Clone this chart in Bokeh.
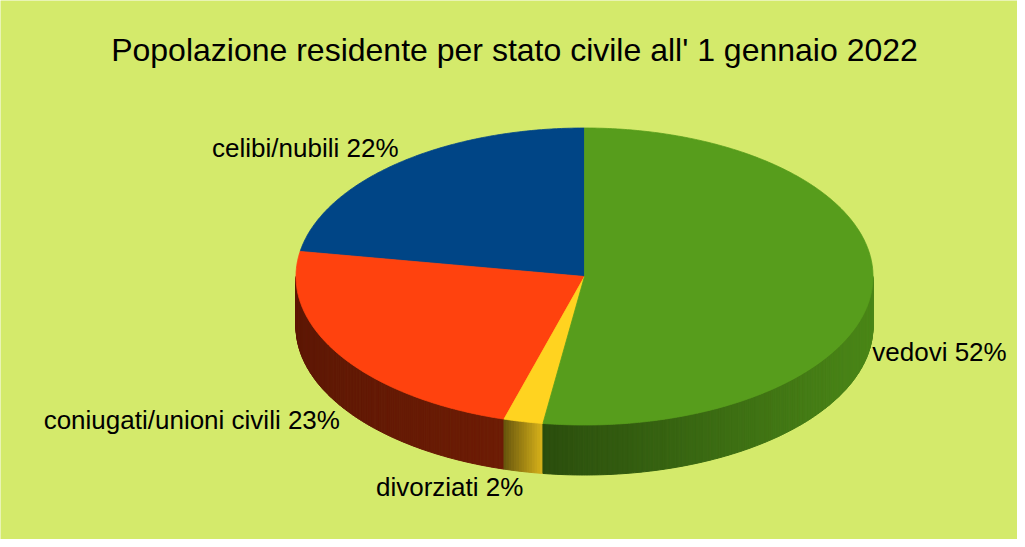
import numpy as np
from bokeh.plotting import figure
from bokeh.models import Range1d, ColumnDataSource
from bokeh.embed import file_html
from bokeh.resources import INLINE
from bokeh.core.properties import value

# ---- data ----
title_text = "Popolazione residente per stato civile all' 1 gennaio 2022"
categories = ["celibi/nubili", "coniugati/unioni civili", "divorziati", "vedovi"]
percent = [22.3, 23.2, 2.2, 52.3]
pct_labels = ["22%", "23%", "2%", "52%"]
colors = ["#004586", "#ff420e", "#ffd320", "#579d1c"]
# wall shading (left factor, right factor) per slice
wall_shade = [(0.40, 0.40), (0.37, 0.43), (0.40, 0.85), (0.50, 0.86)]

# ---- layout ----
W, H = 1017, 539
BG = "#d4ea6b"
CX, CY, A, B, DEPTH = 592.0, 284.0, 288.5, 148.5, 50.0
FONT = "Liberation Sans"

p = figure(width=W, height=H, x_range=Range1d(8, 8 + W), y_range=Range1d(8 + H, 8),
           output_backend="svg", toolbar_location=None, min_border=0)
p.axis.visible = False
p.grid.visible = False
p.outline_line_color = None
p.background_fill_color = BG
p.border_fill_color = BG


def ell(theta_deg, dy=0.0):
    t = np.radians(theta_deg)
    return CX + A * np.sin(t), CY - B * np.cos(t) + dy


def shade(hexc, f):
    r, g, b = int(hexc[1:3], 16), int(hexc[3:5], 16), int(hexc[5:7], 16)
    return "#%02x%02x%02x" % (int(r * f), int(g * f), int(b * f))


total = sum(percent)
cum = np.concatenate([[0.0], np.cumsum(percent)]) / total
starts = -cum[:-1] * 360.0
ends = -cum[1:] * 360.0

# ---- walls (front half: theta in (-270, -90)) ----
wx, wy, wc = [], [], []
for i in range(len(percent)):
    lo = max(ends[i], -270.0)
    hi = min(starts[i], -90.0)
    if hi <= lo:
        continue
    n = max(2, int((hi - lo) / 0.5))
    th = np.linspace(hi, lo, n + 1)
    xs_all, _ = ell(th)
    xmin, xmax = xs_all.min(), xs_all.max()
    fl, fr = wall_shade[i]
    for k in range(n):
        x1, y1 = ell(th[k])
        x2, y2 = ell(th[k + 1])
        xm = 0.5 * (x1 + x2)
        t = 0.0 if xmax == xmin else (xm - xmin) / (xmax - xmin)
        f = fl + (fr - fl) * t
        wx.append([x1, x2, x2, x1])
        wy.append([y1, y2, y2 + DEPTH, y1 + DEPTH])
        wc.append(shade(colors[i], f))

p.patches(xs="xs", ys="ys", source=ColumnDataSource(dict(xs=wx, ys=wy, c=wc)),
          fill_color="c", line_color="c", line_width=1)

# ---- top faces ----
tx, ty = [], []
for i in range(len(percent)):
    th = np.linspace(starts[i], ends[i], max(3, int(abs(ends[i] - starts[i]) * 2)))
    xs, ys = ell(th)
    tx.append([CX] + list(xs))
    ty.append([CY] + list(ys))
p.patches(xs="xs", ys="ys", source=ColumnDataSource(dict(xs=tx, ys=ty, c=colors)),
          fill_color="c", line_color="c", line_width=0.8)

# ---- labels ----
for i in range(len(percent)):
    mid = 0.5 * (starts[i] + ends[i])
    t = np.radians(mid)
    front = np.cos(t) < 0
    x, y = ell(mid, DEPTH if front else 0.0)
    align = "left" if np.sin(t) > 0 else "right"
    base = "top" if front else "bottom"
    p.text(x=[x], y=[y], text=[f"{categories[i]} {pct_labels[i]}"],
           text_font=value(FONT), text_font_size="26px", text_color="#000000",
           text_align=align, text_baseline=base)

# ---- title ----
p.text(x=[522], y=[57], text=[title_text], text_font=value(FONT),
       text_font_size="32px", text_color="#000000",
       text_align="center", text_baseline="middle")

open("out.html", "w").write(file_html(p, INLINE))
